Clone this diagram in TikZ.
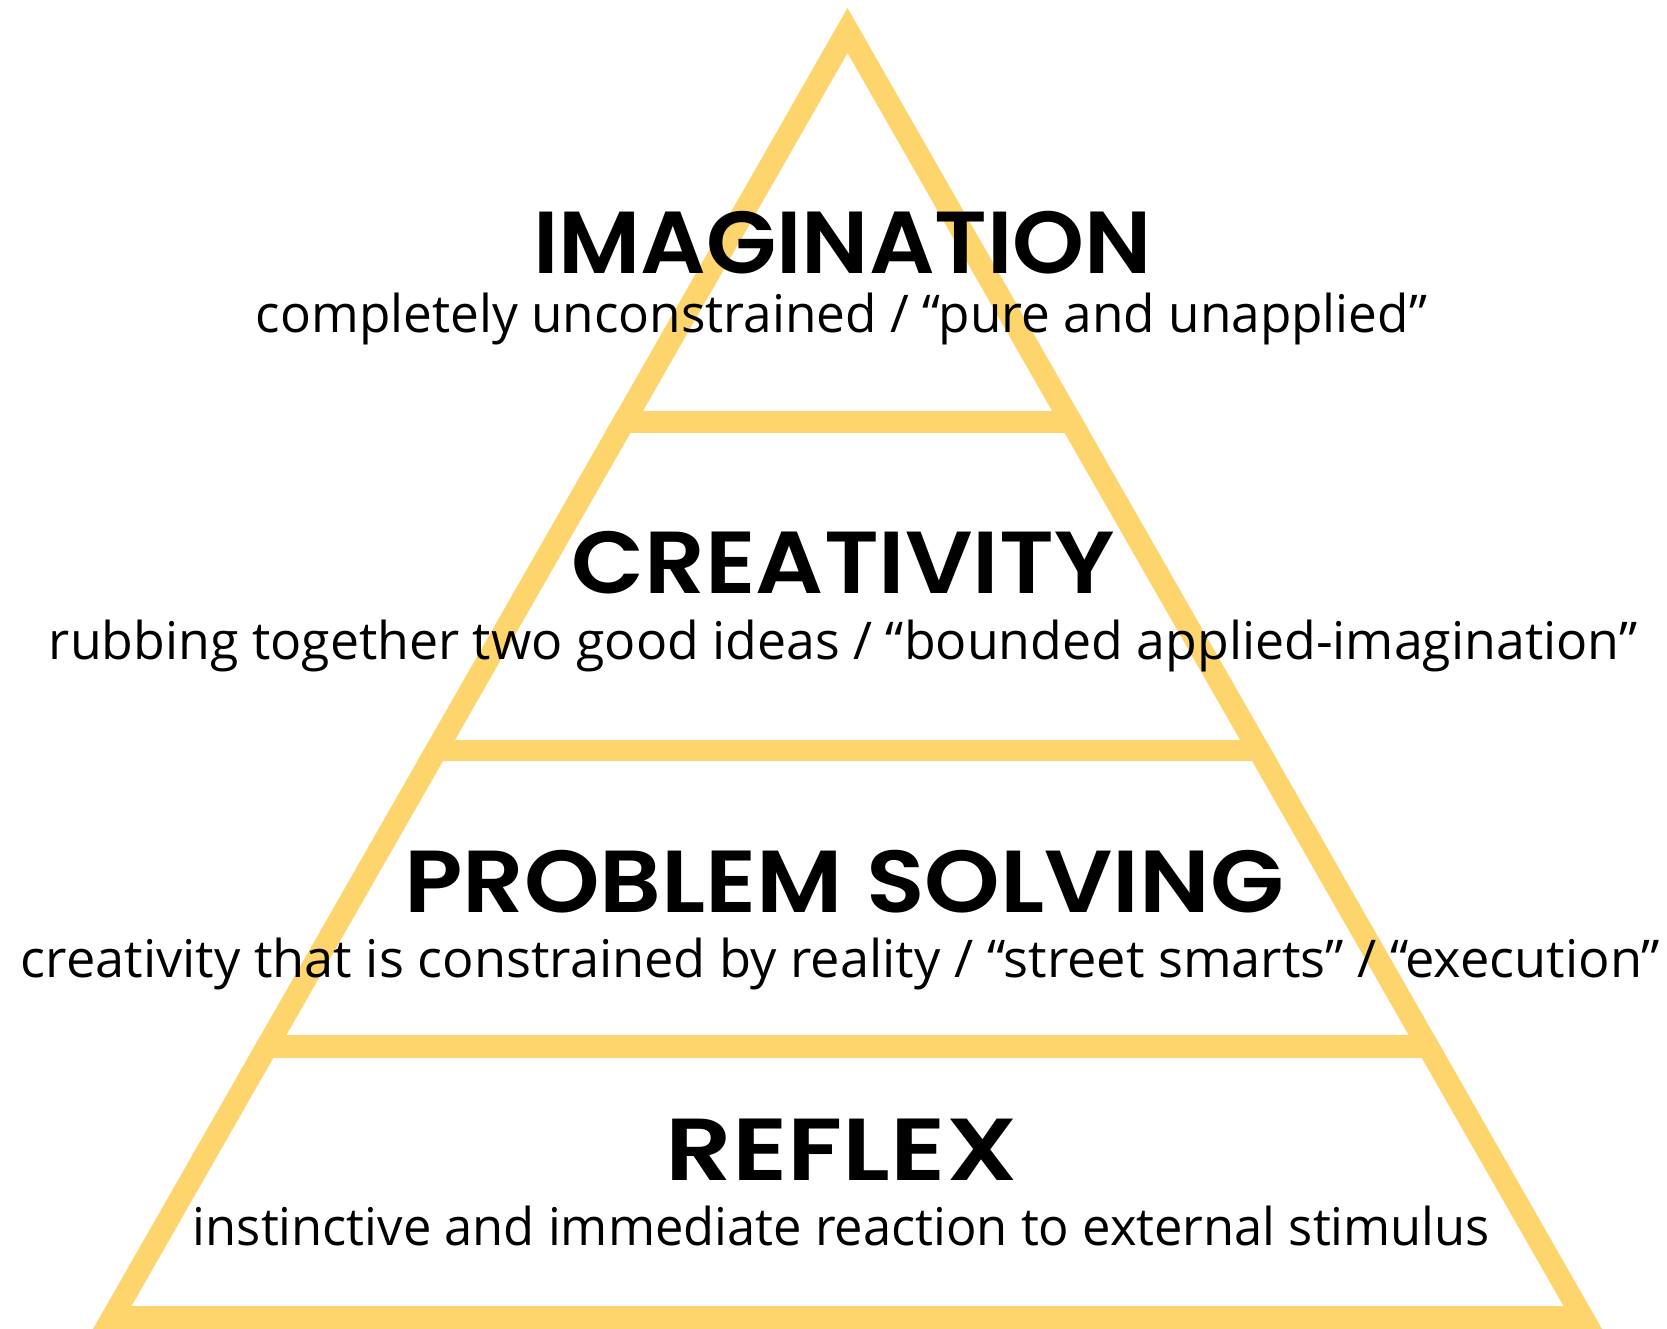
\documentclass[tikz,border=0pt]{standalone}
\usepackage{fontspec}
\setmainfont{Open Sans}
\newfontfamily\headfont{Poppins SemiBold}
\usepackage{graphicx}
\definecolor{pyr}{RGB}{254,213,108}
\tikzset{
  head/.style={anchor=base, inner sep=0pt, font=\fontsize{88}{88}\headfont},
  sub/.style={anchor=base, inner sep=0pt, font=\fontsize{52}{52}\selectfont},
}
\newcommand\fitw[2]{\resizebox{#1pt}{\height}{#2}}
\begin{document}
\begin{tikzpicture}[x=1pt,y=-1pt]
\useasboundingbox (0,0) rectangle (1667,1329);
\fill[white] (0,0) rectangle (1667,1329);
% triangle frame
\fill[pyr, even odd rule] (847.5,8) -- (93,1329) -- (1602,1329) -- cycle
  (847.5,53) -- (131.5,1306) -- (1563.5,1306) -- cycle;
% bands
\begin{scope}
\clip (847.5,8) -- (93,1329) -- (1602,1329) -- cycle;
\fill[pyr] (0,411) rectangle (1667,433);
\fill[pyr] (0,740) rectangle (1667,761);
\fill[pyr] (0,1035) rectangle (1667,1058);
\end{scope}
% texts
\node[head] (h1) at (842.5,274) {\fitw{619}{IMAGINATION}};
\node[sub] (s1) at (841.5,333) {\fitw{1171}{completely unconstrained / “pure and unapplied”}};
\node[head] (h2) at (843,593) {\fitw{543}{CREATIVITY}};
\node[sub] (s2) at (843,659) {\fitw{1588}{rubbing together two good ideas / “bounded applied-imagination”}};
\node[head] (h3) at (844,912) {\fitw{880}{PROBLEM SOLVING}};
\node[sub] (s3) at (840.5,977) {\fitw{1639}{creativity that is constrained by reality / “street smarts” / “execution”}};
\node[head] (h4) at (841.5,1180) {\fitw{352}{REFLEX}};
\node[sub] (s4) at (841.5,1245) {\fitw{1297}{instinctive and immediate reaction to external stimulus}};
\end{tikzpicture}
\end{document}
